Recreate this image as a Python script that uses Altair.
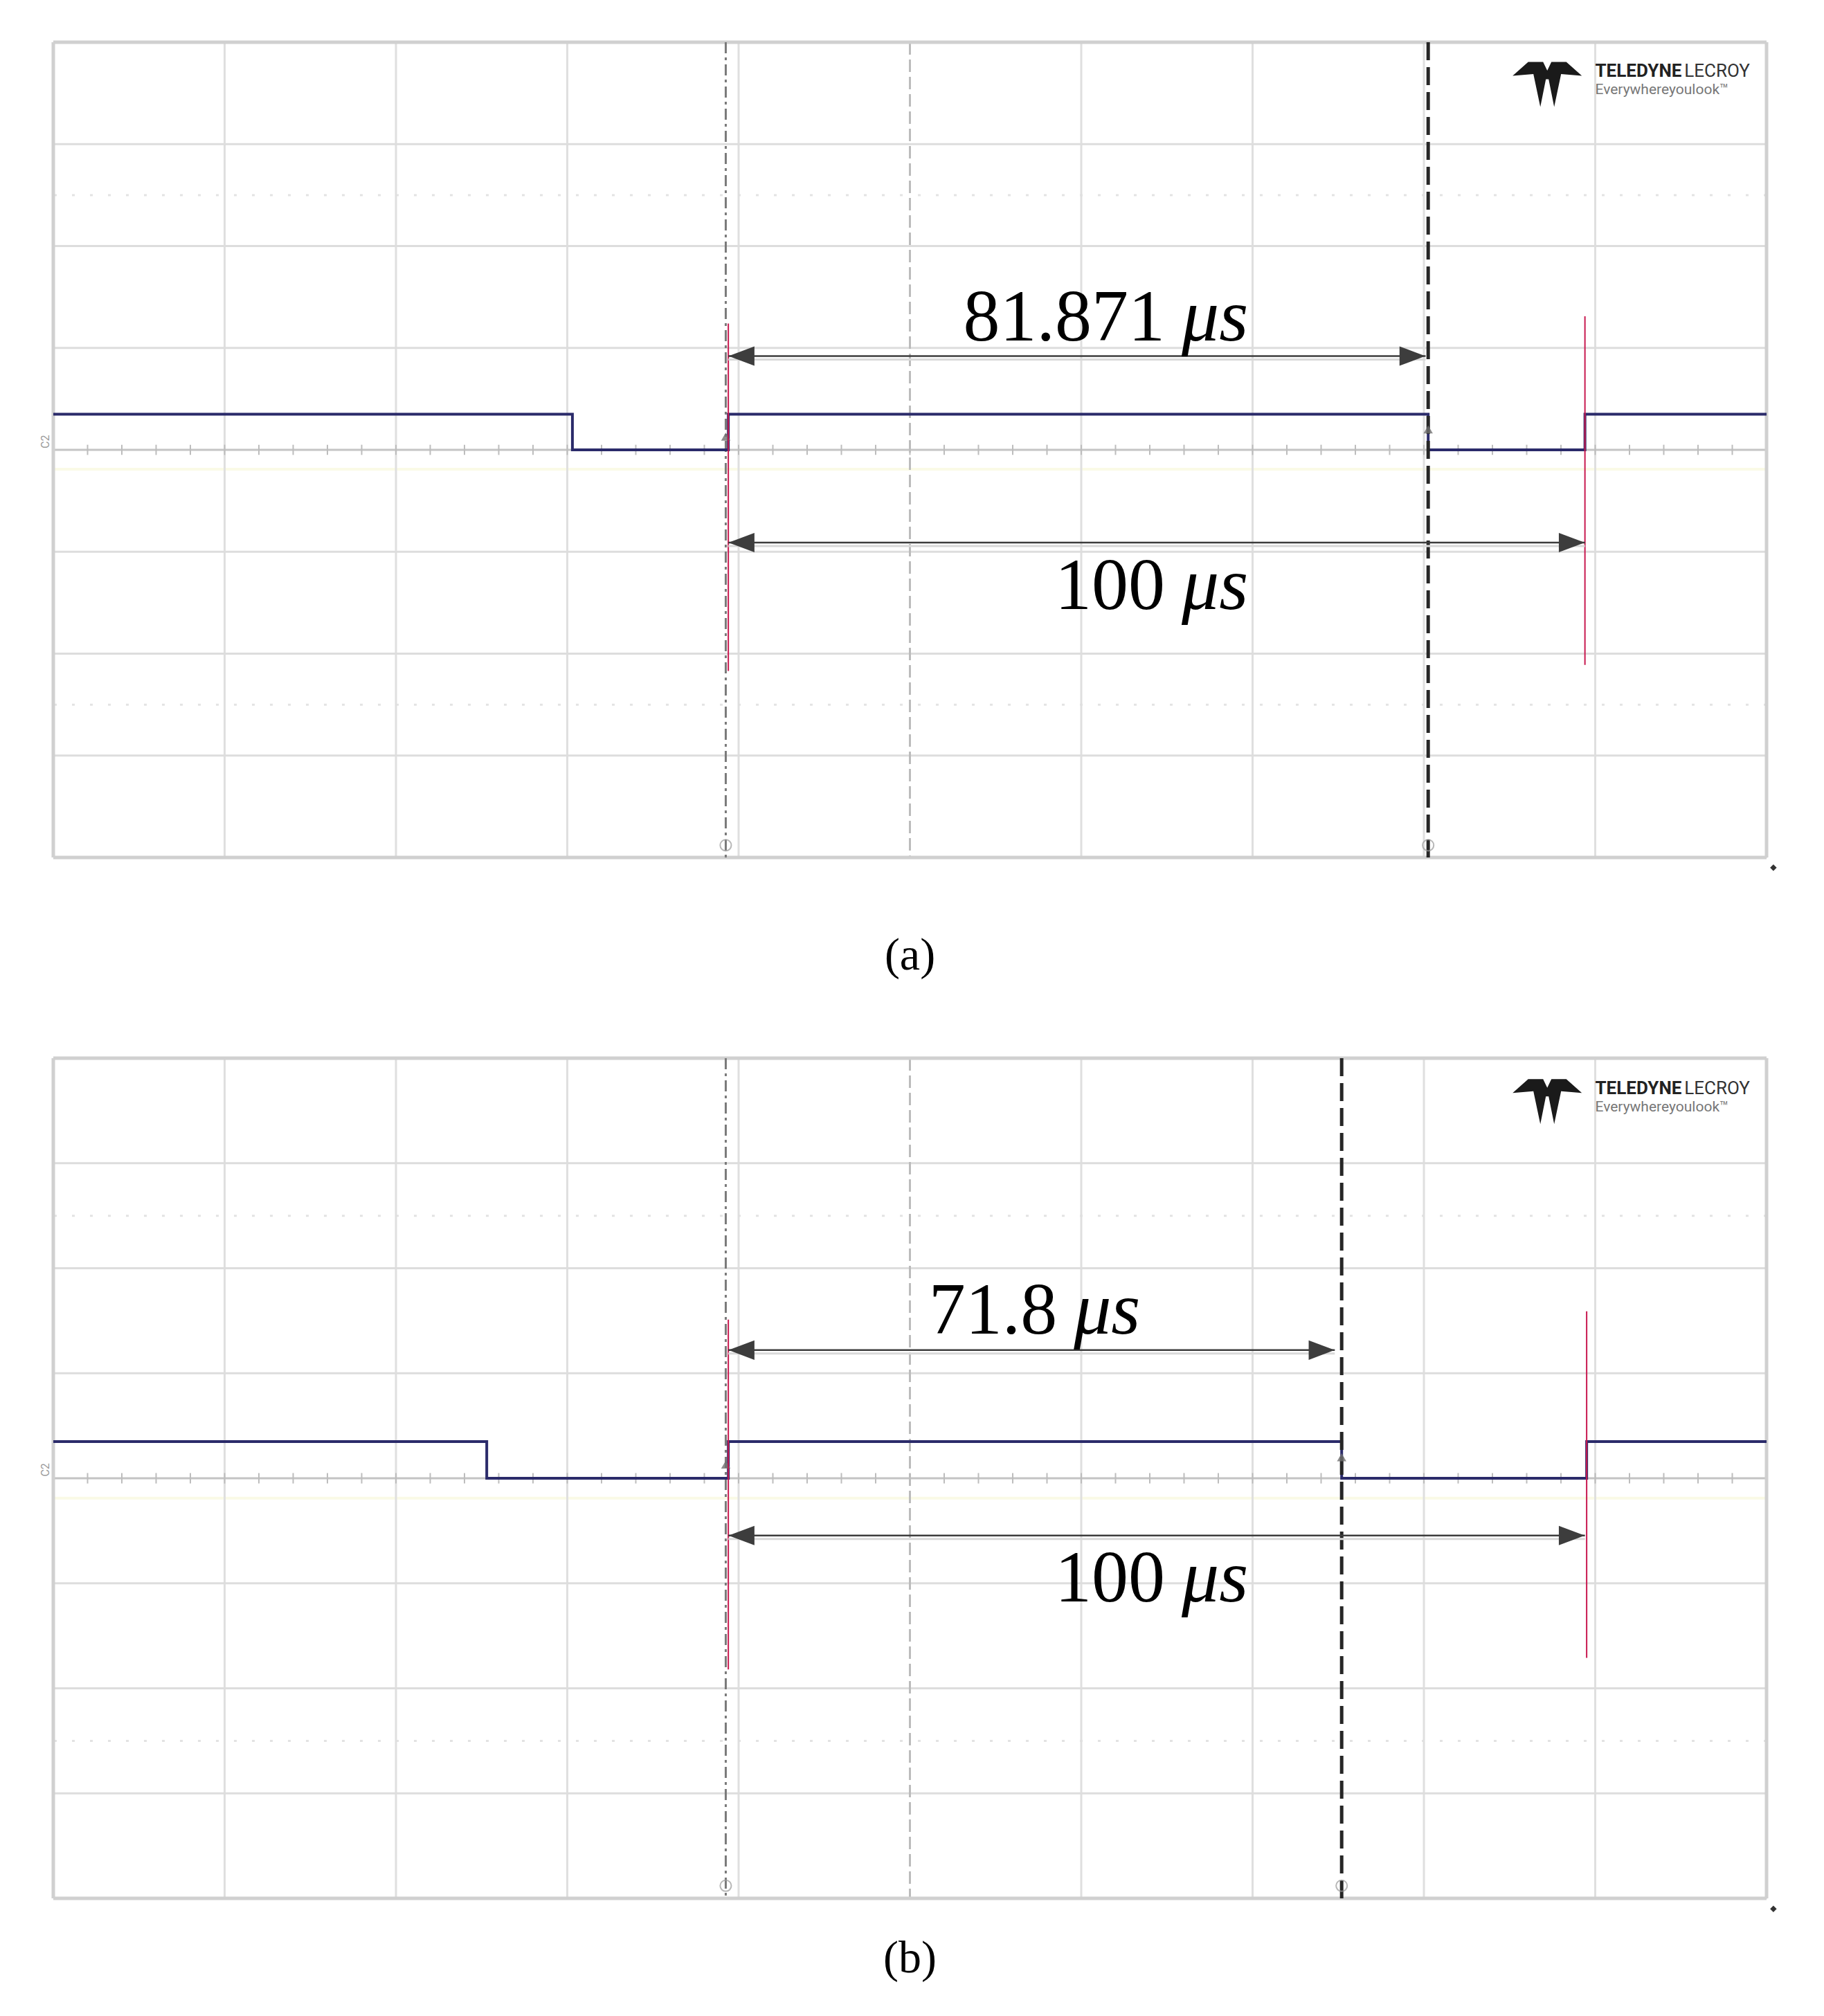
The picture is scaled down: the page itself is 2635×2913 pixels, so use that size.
import altair as alt
import pandas as pd

# ---------------- graticule (20 us / div horizontally, 1 div vertically) ----------------
X_GRID = [0, 20, 40, 60, 80, 100, 120, 140, 160, 180, 200]
Y_GRID = [-4, -3, -2, -1, 0, 1, 2, 3, 4]
X_MINOR = [i * 4 for i in range(1, 50)]
DOT_ROWS = [2.5, -2.5]

# ---------------- panel (a) ----------------
A_EDGE_T = [0.0, 60.6, 78.8, 160.5, 178.8, 200.0]
A_LEVEL = [0.35, 0.0, 0.35, 0.0, 0.35, 0.35]
A_CURSOR_DASHDOT = 78.8
A_CURSOR_DASHED = 160.5
A_RED_X = [78.8, 178.8]
A_RED_TOP = [1.24, 1.31]
A_RED_BOTTOM = [-2.17, -2.11]
A_ARROW_Y = [0.92, -0.91]
A_ARROW_FROM = [78.8, 78.8]
A_ARROW_TO = [160.2, 178.8]
A_LABEL_NUM = ["81.871", "100"]
A_LABEL_X = [131.4, 131.4]
A_LABEL_Y = [1.07, -1.56]

# ---------------- panel (b) ----------------
B_EDGE_T = [0.0, 50.6, 78.8, 150.4, 179.0, 200.0]
B_LEVEL = [0.35, 0.0, 0.35, 0.0, 0.35, 0.35]
B_CURSOR_DASHDOT = 78.8
B_CURSOR_DASHED = 150.4
B_RED_X = [78.8, 179.0]
B_RED_TOP = [1.51, 1.59]
B_RED_BOTTOM = [-1.82, -1.71]
B_ARROW_Y = [1.22, -0.545]
B_ARROW_FROM = [78.8, 78.8]
B_ARROW_TO = [149.6, 178.8]
B_LABEL_NUM = ["71.8", "100"]
B_LABEL_X = [118.8, 131.4]
B_LABEL_Y = [1.38, -1.17]

UNIT = "μs"
LOGO_X = 174.4
LOGO_Y = 3.62
LOGO_TEXT_X = 180.0

XS = alt.Scale(domain=[0, 200], nice=False, zero=False, padding=0)
YS = alt.Scale(domain=[-4, 4], nice=False, zero=False, padding=0)

LOGO_PATH = ("M -1 -0.15 L -0.55 -0.55 L -0.12 -0.55 L 0 -0.3 L 0.12 -0.55 L 0.55 -0.55 "
             "L 1 -0.15 L 0.4 -0.2 L 0.2 0.75 L 0.04 -0.05 L -0.04 -0.05 L -0.2 0.75 "
             "L -0.4 -0.2 Z")
RIGHT_HEAD = "M 1 0 L -1 -0.75 L -1 0.75 Z"
LEFT_HEAD = "M -1 0 L 1 -0.75 L 1 0.75 Z"


def X(f="x"):
    return alt.X(f"{f}:Q", scale=XS, axis=None)


def Y(f="y"):
    return alt.Y(f"{f}:Q", scale=YS, axis=None)


def panel(edge_t, level, c_dd, c_dash, red_x, red_top, red_bot, arr_y, arr_from, arr_to,
          lab_num, lab_x, lab_y, height, caption, cap_offset):
    vgrid = alt.Chart(pd.DataFrame({"x": [v for v in X_GRID if v not in (0, 100, 200)]})).mark_rule(
        color="#dfdfdf", strokeWidth=3).encode(x=X())
    hgrid = alt.Chart(pd.DataFrame({"y": [v for v in Y_GRID if v not in (-4, 0, 4)]})).mark_rule(
        color="#dddddd", strokeWidth=3).encode(y=Y())
    vframe = alt.Chart(pd.DataFrame({"x": [0, 200]})).mark_rule(
        color="#d0d0d0", strokeWidth=5).encode(x=X())
    hframe = alt.Chart(pd.DataFrame({"y": [-4, 4]})).mark_rule(
        color="#d0d0d0", strokeWidth=5).encode(y=Y())
    vcenter = alt.Chart(pd.DataFrame({"x": [100]})).mark_rule(
        color="#bcbcbc", strokeWidth=3, strokeDash=[18, 7]).encode(x=X())
    hcenter = alt.Chart(pd.DataFrame({"y": [0]})).mark_rule(
        color="#c4c4c4", strokeWidth=3).encode(y=Y())
    xminor = alt.Chart(pd.DataFrame({"x": X_MINOR, "y": [-0.05] * len(X_MINOR),
                                     "y2": [0.05] * len(X_MINOR)})).mark_rule(
        color="#bdbdbd", strokeWidth=2).encode(x=X(), y=Y(), y2="y2:Q")
    dots = alt.Chart(pd.DataFrame({"y": DOT_ROWS})).mark_rule(
        color="#e3e3e3", strokeWidth=3, strokeDash=[4, 22]).encode(y=Y())
    yellow = alt.Chart(pd.DataFrame({"y": [-0.19]})).mark_rule(
        color="#fafae6", strokeWidth=4).encode(y=Y())

    trace = alt.Chart(pd.DataFrame({"x": edge_t, "y": level})).mark_line(
        interpolate="step-after", color="#2b2b6a", strokeWidth=4).encode(x=X(), y=Y())

    cur_dd = alt.Chart(pd.DataFrame({"x": [c_dd - 0.3]})).mark_rule(
        color="#7a7a7a", strokeWidth=3, strokeDash=[16, 6, 4, 6]).encode(x=X())
    cur_dash = alt.Chart(pd.DataFrame({"x": [c_dash]})).mark_rule(
        color="#262626", strokeWidth=5, strokeDash=[26, 10]).encode(x=X())
    cur_mark = alt.Chart(pd.DataFrame({"x": [c_dd - 0.3, c_dash], "y": [-3.88, -3.88]})).mark_point(
        shape="circle", size=260, color="#9a9a9a", strokeWidth=2, filled=False).encode(x=X(), y=Y())
    edge_mark = alt.Chart(pd.DataFrame({"x": [c_dd - 0.3, c_dash], "y": [0.13, 0.2]})).mark_point(
        shape="triangle-up", size=180, color="#707070", filled=True, opacity=0.8).encode(x=X(), y=Y())

    red = alt.Chart(pd.DataFrame({"x": red_x, "y": red_top, "y2": red_bot})).mark_rule(
        color="#c8194f", strokeWidth=2).encode(x=X(), y=Y(), y2="y2:Q")

    adf = pd.DataFrame({"x": arr_from, "x2": arr_to, "y": arr_y})
    arr_shadow = alt.Chart(adf).mark_rule(color="#d9d9d9", strokeWidth=3, yOffset=5).encode(
        x=X(), x2="x2:Q", y=Y())
    arr = alt.Chart(adf).mark_rule(color="#3d3d3d", strokeWidth=2.5).encode(x=X(), x2="x2:Q", y=Y())
    head_l = alt.Chart(pd.DataFrame({"x": arr_from, "y": arr_y})).mark_point(
        shape=LEFT_HEAD, size=1400, color="#3d3d3d", filled=True, opacity=1, xOffset=19).encode(x=X(), y=Y())
    head_r = alt.Chart(pd.DataFrame({"x": arr_to, "y": arr_y})).mark_point(
        shape=RIGHT_HEAD, size=1400, color="#3d3d3d", filled=True, opacity=1, xOffset=-19).encode(x=X(), y=Y())

    ldf = pd.DataFrame({"x": lab_x, "y": lab_y, "num": lab_num, "unit": [UNIT] * len(lab_num)})
    num = alt.Chart(ldf).mark_text(
        font="Liberation Serif", fontSize=106, align="right", baseline="alphabetic",
        color="#000000", dx=-20).encode(x=X(), y=Y(), text="num:N")
    unit = alt.Chart(ldf).mark_text(
        font="Liberation Serif", fontSize=108, fontStyle="italic", align="left",
        baseline="alphabetic", color="#000000", dx=4).encode(x=X(), y=Y(), text="unit:N")

    logo = alt.Chart(pd.DataFrame({"x": [LOGO_X], "y": [LOGO_Y]})).mark_point(
        shape=LOGO_PATH, size=10000, color="#1a1a1a", filled=True, opacity=1).encode(x=X(), y=Y())
    logo_t1 = alt.Chart(pd.DataFrame({"x": [LOGO_TEXT_X], "y": [LOGO_Y + 0.04], "t": ["TELEDYNE"]})).mark_text(
        font="Roboto", fontSize=26, fontWeight="bold", align="left", baseline="alphabetic",
        color="#222222").encode(x=X(), y=Y(), text="t:N")
    logo_t2 = alt.Chart(pd.DataFrame({"x": [LOGO_TEXT_X + 10.4], "y": [LOGO_Y + 0.04], "t": ["LECROY"]})).mark_text(
        font="Roboto", fontSize=26, align="left", baseline="alphabetic",
        color="#333333").encode(x=X(), y=Y(), text="t:N")
    logo_t3 = alt.Chart(pd.DataFrame({"x": [LOGO_TEXT_X], "y": [LOGO_Y - 0.13], "t": ["Everywhereyoulook™"]})).mark_text(
        font="Roboto", fontSize=21, align="left", baseline="alphabetic",
        color="#777777").encode(x=X(), y=Y(), text="t:N")

    c2 = alt.Chart(pd.DataFrame({"x": [-0.9], "y": [0.08], "t": ["C2"]})).mark_text(
        font="Roboto", fontSize=16, angle=270, color="#9a9a9a").encode(x=X(), y=Y(), text="t:N")
    trig = alt.Chart(pd.DataFrame({"x": [200.8], "y": [-4.1]})).mark_point(
        shape="diamond", size=90, color="#333333", filled=True, opacity=1).encode(x=X(), y=Y())

    return alt.layer(
        yellow, dots, vgrid, hgrid, vcenter, hcenter, xminor, vframe, hframe,
        cur_dd, trace, cur_dash, cur_mark, edge_mark, red, arr_shadow, arr, head_l, head_r,
        num, unit, logo, logo_t1, logo_t2, logo_t3, c2, trig
    ).properties(
        width=2475, height=height,
        title=alt.TitleParams(caption, orient="bottom", font="Liberation Serif", fontSize=66,
                              fontWeight="normal", color="#000000", offset=cap_offset, anchor="middle")
    )


pa = panel(A_EDGE_T, A_LEVEL, A_CURSOR_DASHDOT, A_CURSOR_DASHED, A_RED_X, A_RED_TOP, A_RED_BOTTOM,
           A_ARROW_Y, A_ARROW_FROM, A_ARROW_TO, A_LABEL_NUM, A_LABEL_X, A_LABEL_Y, 1178, "(a)", 91)
pb = panel(B_EDGE_T, B_LEVEL, B_CURSOR_DASHDOT, B_CURSOR_DASHED, B_RED_X, B_RED_TOP, B_RED_BOTTOM,
           B_ARROW_Y, B_ARROW_FROM, B_ARROW_TO, B_LABEL_NUM, B_LABEL_X, B_LABEL_Y, 1214, "(b)", 35)

chart = alt.vconcat(pa, pb, spacing=111).properties(
    padding={"left": 49, "top": 50, "right": 5, "bottom": 5}
).configure_view(stroke=None).configure(background="white")

chart.save("out.html", embed_options={"renderer": "svg", "actions": False})
